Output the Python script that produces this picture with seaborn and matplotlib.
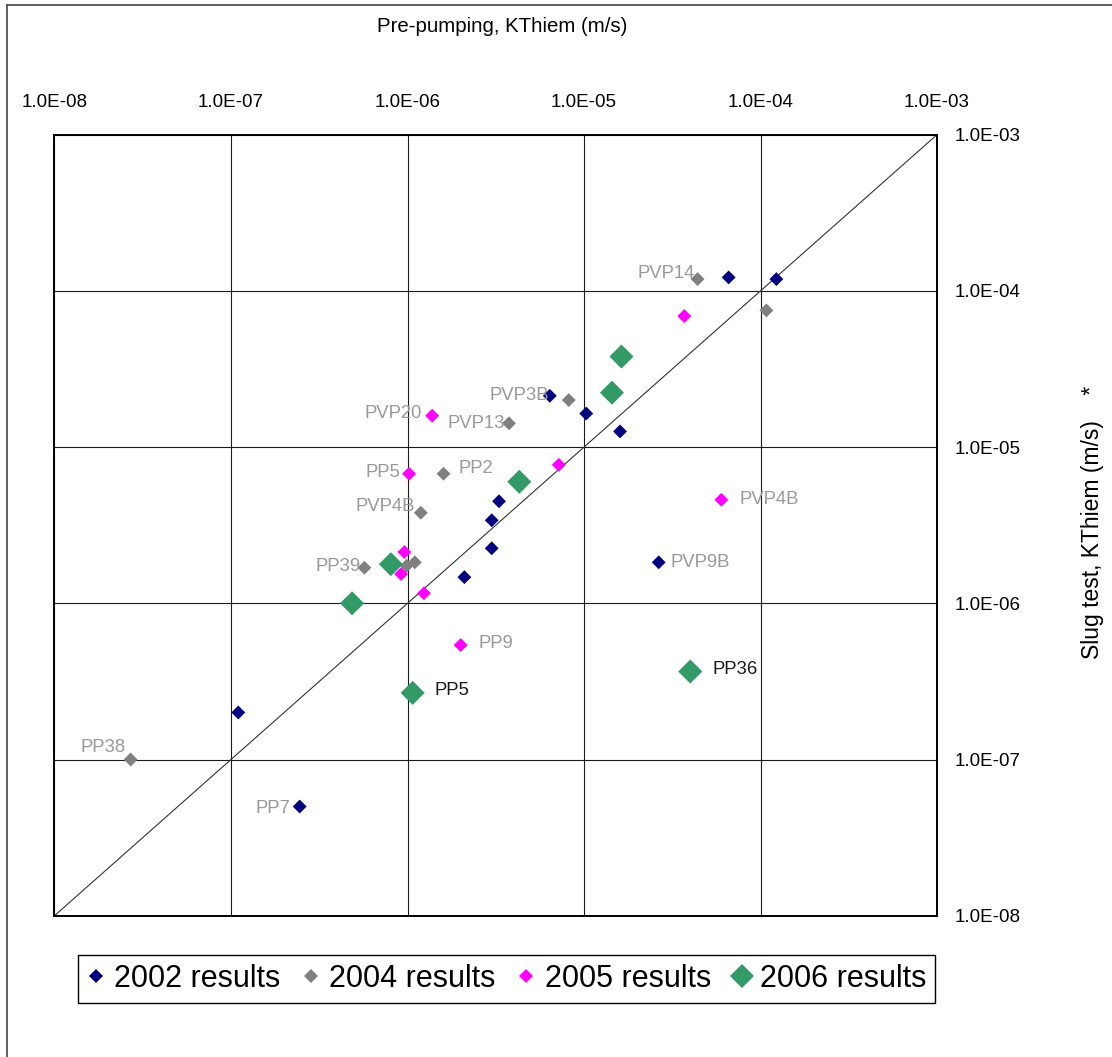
import matplotlib
matplotlib.use("Agg")
import numpy as np
import pandas as pd
import matplotlib.pyplot as plt
import seaborn as sns
from matplotlib.lines import Line2D
from matplotlib.ticker import FixedLocator, FixedFormatter, NullLocator

# Hydraulic conductivity (m/s): pre-pumping Thiem estimate vs slug test, per survey
k_pre_2002 = [1.1e-7, 2.45e-7, 2.1e-6, 3.0e-6, 3.0e-6, 3.3e-6, 2.65e-5, 1.6e-5, 1.03e-5, 6.4e-6, 6.6e-5, 1.23e-4]
k_slug_2002 = [2.0e-7, 5.0e-8, 1.47e-6, 2.25e-6, 3.4e-6, 4.5e-6, 1.83e-6, 1.26e-5, 1.64e-5, 2.13e-5, 1.22e-4, 1.19e-4]
wells_2002 = ["", "PP7", "", "", "", "", "PVP9B", "", "", "PVP3B", "", ""]

k_pre_2004 = [2.7e-8, 5.7e-7, 1.1e-6, 9.9e-7, 1.19e-6, 1.6e-6, 3.76e-6, 8.2e-6, 4.4e-5, 1.08e-4]
k_slug_2004 = [1.0e-7, 1.69e-6, 1.83e-6, 1.74e-6, 3.8e-6, 6.75e-6, 1.42e-5, 2.0e-5, 1.19e-4, 7.5e-5]
wells_2004 = ["PP38", "PP39", "", "", "PVP4B", "PP2", "PVP13", "", "PVP14", ""]

k_pre_2005 = [2.0e-6, 1.24e-6, 9.2e-7, 9.6e-7, 1.02e-6, 7.2e-6, 1.38e-6, 3.7e-5, 6.0e-5]
k_slug_2005 = [5.4e-7, 1.16e-6, 1.54e-6, 2.13e-6, 6.75e-6, 7.7e-6, 1.59e-5, 6.9e-5, 4.6e-6]
wells_2005 = ["PP9", "", "", "", "PP5", "", "PVP20", "", "PVP4B"]

k_pre_2006 = [4.85e-7, 1.07e-6, 8.05e-7, 4.3e-6, 1.44e-5, 1.63e-5, 4.0e-5]
k_slug_2006 = [1.0e-6, 2.67e-7, 1.78e-6, 6.0e-6, 2.23e-5, 3.8e-5, 3.66e-7]
wells_2006 = ["", "PP5", "", "", "", "", "PP36"]

series_names = ["2002 results", "2004 results", "2005 results", "2006 results"]
tick_values = [1e-8, 1e-7, 1e-6, 1e-5, 1e-4, 1e-3]
tick_labels = ["1.0E-08", "1.0E-07", "1.0E-06", "1.0E-05", "1.0E-04", "1.0E-03"]

frames = []
for name, xs, ys, ws in zip(
    series_names,
    [k_pre_2002, k_pre_2004, k_pre_2005, k_pre_2006],
    [k_slug_2002, k_slug_2004, k_slug_2005, k_slug_2006],
    [wells_2002, wells_2004, wells_2005, wells_2006],
):
    frames.append(pd.DataFrame({"k_pre": xs, "k_slug": ys, "well": ws, "series": name}))
df = pd.concat(frames, ignore_index=True)

# styling
palette = {"2002 results": "#000080", "2004 results": "#808080",
           "2005 results": "#FF00FF", "2006 results": "#339966"}
marker_area = {"2002 results": 50, "2004 results": 50,
               "2005 results": 50, "2006 results": 150}
# label placement: (dx, dy) in pixels relative to the point, and side of the point
label_place = {
    ("2002 results", "PP7"): (-9, 2, "right"),
    ("2002 results", "PVP9B"): (12, 0, "left"),
    ("2002 results", "PVP3B"): (-1, 0, "right"),
    ("2004 results", "PP38"): (-5, -12, "right"),
    ("2004 results", "PP39"): (-4, -1, "right"),
    ("2004 results", "PVP4B"): (-6, -6, "right"),
    ("2004 results", "PP2"): (15, -5, "left"),
    ("2004 results", "PVP13"): (-4, 0, "right"),
    ("2004 results", "PVP14"): (-3, -6, "right"),
    ("2005 results", "PP9"): (18, -2, "left"),
    ("2005 results", "PP5"): (-9, -1.5, "right"),
    ("2005 results", "PVP20"): (-10, -2, "right"),
    ("2005 results", "PVP4B"): (18, 0, "left"),
    ("2006 results", "PP5"): (22, -2, "left"),
    ("2006 results", "PP36"): (22, -2, "left"),
}
label_color = {"2006 results": "#1a1a1a"}

sns.set_style("white")
plt.rcParams["font.family"] = ["Liberation Sans", "DejaVu Sans"]
plt.rcParams["text.color"] = "black"

fig = plt.figure(figsize=(11.12, 10.57), dpi=100)
ax = fig.add_axes([0.04901, 0.13368, 0.79362, 0.73888])

ax.set_xscale("log")
ax.set_yscale("log")
ax.set_xlim(tick_values[0], tick_values[-1])
ax.set_ylim(tick_values[0], tick_values[-1])

# 1:1 line
ax.plot([tick_values[0], tick_values[-1]], [tick_values[0], tick_values[-1]],
        color="#333333", lw=0.8, zorder=2)

sns.scatterplot(data=df, x="k_pre", y="k_slug", hue="series", palette=palette,
                size="series", sizes=marker_area, marker="D", linewidth=0,
                legend=False, ax=ax, zorder=3)

px = 72.0 / 100.0
for _, row in df[df["well"] != ""].iterrows():
    dx, dy, side = label_place[(row["series"], row["well"])]
    ax.annotate(row["well"], (row["k_pre"], row["k_slug"]),
                xytext=(dx * px, -dy * px), textcoords="offset points",
                ha="right" if side == "right" else "left", va="center",
                fontsize=13.3, color=label_color.get(row["series"], "#999999"),
                zorder=4)

# axes, ticks and grid
for loc in ["x", "y"]:
    axis = ax.xaxis if loc == "x" else ax.yaxis
    axis.set_major_locator(FixedLocator(tick_values))
    axis.set_major_formatter(FixedFormatter(tick_labels))
    axis.set_minor_locator(NullLocator())
ax.xaxis.tick_top()
ax.yaxis.tick_right()
ax.tick_params(axis="x", length=0, labelsize=13.5, pad=17.3, colors="black")
ax.tick_params(axis="y", length=0, labelsize=13.5, pad=13, colors="black")
ax.grid(True, which="major", color="#1a1a1a", lw=0.8)
ax.set_axisbelow(True)
for sp in ax.spines.values():
    sp.set_visible(True)
    sp.set_color("black")
    sp.set_linewidth(1.4)

ax.set_xlabel("Pre-pumping, KThiem (m/s)", fontsize=14.7, color="black")
ax.xaxis.set_label_position("top")
ax.xaxis.set_label_coords(0.507, 1.1315)
ax.set_ylabel("Slug test, KThiem (m/s)    *", fontsize=16.5, color="black")
ax.yaxis.set_label_position("right")
ax.yaxis.set_label_coords(1.163, 0.5035)

handles = [Line2D([], [], marker="D", linestyle="", color=palette[s],
                  markeredgewidth=0, markersize=np.sqrt(marker_area[s]))
           for s in series_names]
leg = fig.legend(handles, series_names, loc="center", bbox_to_anchor=(0.4555, 0.0738),
                 ncol=4, fontsize=22, frameon=True, fancybox=False, framealpha=1,
                 edgecolor="black", labelcolor="black", handlelength=0.6,
                 handletextpad=0.3, columnspacing=0.7, borderpad=0.3, borderaxespad=0)
leg.get_frame().set_linewidth(1.0)

# outer frame of the chart area
fig.add_artist(Line2D([0.00674, 0.00674], [0.0, 0.9948], transform=fig.transFigure,
                      color="#333333", lw=1.1))
fig.add_artist(Line2D([0.00674, 1.0], [0.9948, 0.9948], transform=fig.transFigure,
                      color="#333333", lw=1.1))

fig.savefig("out.png", dpi=100)
